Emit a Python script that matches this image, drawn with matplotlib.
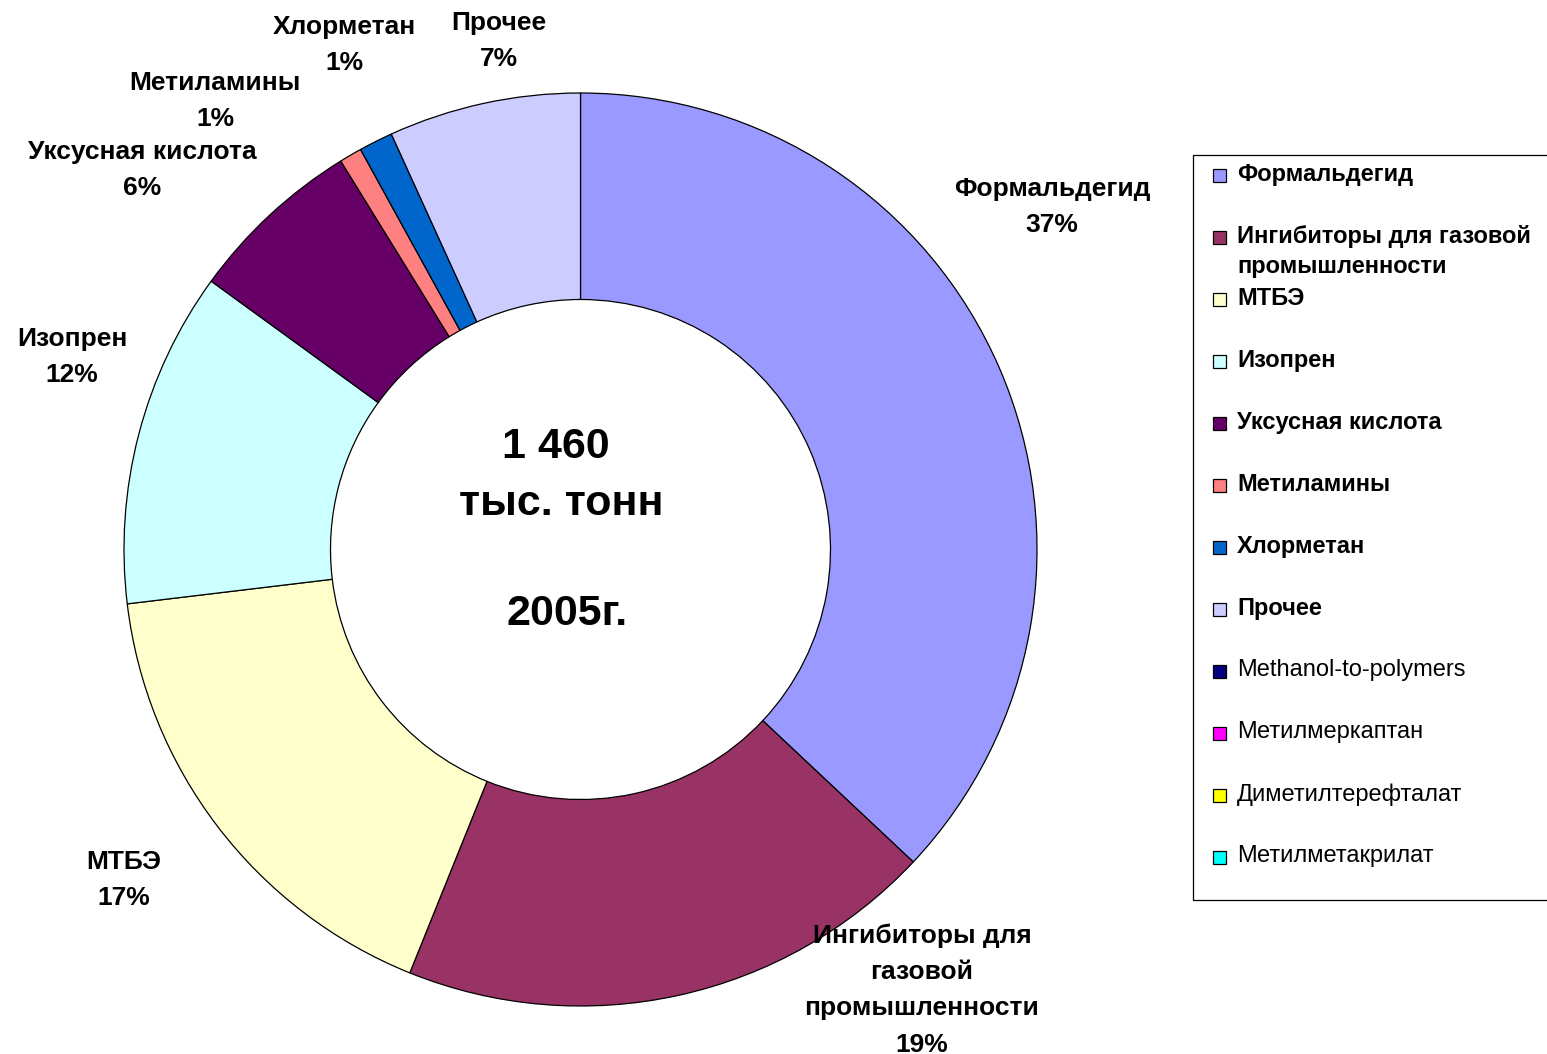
import matplotlib
matplotlib.use("Agg")
import matplotlib.pyplot as plt
from matplotlib.patches import Rectangle

plt.rcParams['font.family'] = ['Liberation Sans', 'DejaVu Sans']

# shares of the ring, clockwise from 12 o'clock
names = ['Формальдегид', 'Ингибиторы для газовой\nпромышленности', 'МТБЭ', 'Изопрен',
         'Уксусная кислота', 'Метиламины', 'Хлорметан', 'Прочее']
shares = [37.0, 19.1, 17.0, 11.9, 6.2, 0.8, 1.2, 6.8]
pct_text = ['37%', '19%', '17%', '12%', '6%', '1%', '1%', '7%']
colors = ['#9999FF', '#993366', '#FFFFCC', '#CCFFFF', '#660066', '#FF8080', '#0066CC', '#CCCCFF']

# legend-only entries (zero share)
extra_names = ['Methanol-to-polymers', 'Метилмеркаптан', 'Диметилтерефталат', 'Метилметакрилат']
extra_colors = ['#000080', '#FF00FF', '#FFFF00', '#00FFFF']

# slice label text (different line breaks than the legend)
slice_labels = ['Формальдегид', 'Ингибиторы для\nгазовой\nпромышленности', 'МТБЭ', 'Изопрен',
                'Уксусная кислота', 'Метиламины', 'Хлорметан', 'Прочее']
label_pos = [(1052, 207), (922, 990), (124, 880), (72, 357),
             (142, 170), (215, 101), (344, 45), (499, 41)]

W, H = 1547, 1054
fig = plt.figure(figsize=(W / 100, H / 100), dpi=100)
ax = fig.add_axes([0, 0, 1, 1])

cx, cy, R = 580.5, 549.5, 456.5
ax.pie(shares, colors=colors, startangle=-90, counterclock=True,
       center=(cx, cy), radius=R,
       wedgeprops=dict(width=R - 250, edgecolor='black', linewidth=0.9))

ax.set_xlim(0, W)
ax.set_ylim(H, 0)
ax.set_aspect('equal')
ax.axis('off')

for lab, p, (x, y) in zip(slice_labels, pct_text, label_pos):
    ax.text(x, y, lab + '\n' + p, ha='center', va='center', fontsize=19,
            fontweight='bold', linespacing=1.65)

# centre caption
ax.text(556, 447, '1 460', ha='center', va='center', fontsize=31, fontweight='bold')
ax.text(561, 504, 'тыс. тонн', ha='center', va='center', fontsize=31, fontweight='bold')
ax.text(567, 614, '2005г.', ha='center', va='center', fontsize=31, fontweight='bold')

# legend box drawn by hand so rows keep Excel's even spacing
ax.add_patch(Rectangle((1193, 155), 400, 745, facecolor='white', edgecolor='black',
                       linewidth=0.9, clip_on=False))
all_names = names + extra_names
all_colors = colors + extra_colors
row0, step = 175, 62
for i, (nm, c) in enumerate(zip(all_names, all_colors)):
    y = row0 + i * step
    ax.add_patch(Rectangle((1213, y - 6.5), 13, 13, facecolor=c, edgecolor='black', linewidth=0.9))
    bold = i < len(names)
    ax.text(1237, y - 12, nm, ha='left', va='top', fontsize=17,
            fontweight='bold' if bold else 'normal', linespacing=1.4)

fig.savefig('out.png', dpi=100)
